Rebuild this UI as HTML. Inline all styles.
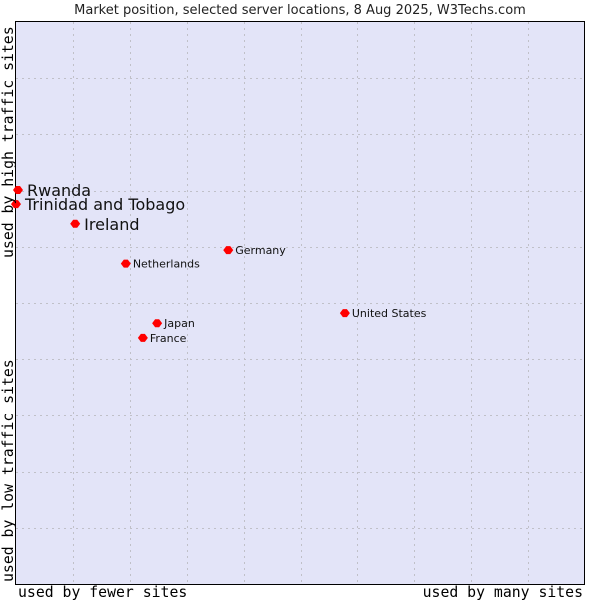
<!DOCTYPE html>
<html><head><meta charset="utf-8"><style>
body{margin:0;background:#fff;width:600px;height:600px;overflow:hidden}
svg{display:block}
</style></head><body>
<svg width="600" height="600" id="chart">
<text x="300" y="14" text-anchor="middle" font-family="DejaVu Sans, sans-serif" font-size="13" fill="#222">Market position, selected server locations, 8 Aug 2025, W3Techs.com</text>
<rect x="15.5" y="21.5" width="569" height="563" fill="#e3e4f8" stroke="#000" stroke-width="1"/>
<g id="grid"></g>
<g id="points"></g>
<text x="18" y="597" font-family="DejaVu Sans Mono, monospace" font-size="14.8" fill="#000">used by fewer sites</text>
<text x="583" y="597" text-anchor="end" font-family="DejaVu Sans Mono, monospace" font-size="14.8" fill="#000">used by many sites</text>
<text transform="translate(13,582) rotate(-90)" font-family="DejaVu Sans Mono, monospace" font-size="14.8" fill="#000">used by low traffic sites</text>
<text transform="translate(13,258) rotate(-90)" font-family="DejaVu Sans Mono, monospace" font-size="14.8" fill="#000">used by high traffic sites</text>
</svg>
<script>
const names = ["Rwanda","Trinidad and Tobago","Ireland","Netherlands","Germany","United States","Japan","France"];
const xValues = [0.35, 0, 10.4, 19.3, 37.3, 57.8, 24.8, 22.3];
const yValues = [70.1, 67.6, 64.1, 57.0, 59.4, 48.2, 46.4, 43.8];
const highlight = [true, true, true, false, false, false, false, false];

const X0=16, X1=585, Y0=584, Y1=22;
const sx = v => X0 + v/100*(X1-X0);
const sy = v => Y0 - v/100*(Y0-Y1);
const NS="http://www.w3.org/2000/svg";
const grid=document.getElementById('grid');
for(let i=1;i<10;i++){
  const gx=Math.round(sx(i*10))+0.5, gy=Math.round(sy(i*10))+0.5;
  const v=document.createElementNS(NS,'line');
  
  
  v.setAttribute('x1',gx);v.setAttribute('x2',gx);v.setAttribute('y1',Y1);v.setAttribute('y2',Y0);
  v.setAttribute('stroke','#c0c0c8');v.setAttribute('stroke-dasharray','2,4');
  grid.appendChild(v);
  const h=document.createElementNS(NS,'line');
  
  
  h.setAttribute('y1',gy);h.setAttribute('y2',gy);h.setAttribute('x1',X0);h.setAttribute('x2',X1);
  h.setAttribute('stroke','#c0c0c8');h.setAttribute('stroke-dasharray','2,4');
  grid.appendChild(h);
}
const pts=document.getElementById('points');
names.forEach((n,i)=>{
  const px=sx(xValues[i]), py=sy(yValues[i]);
  const d=document.createElementNS(NS,'path');
  
  
  d.setAttribute('d',`M${px-5},${py}L${px-2},${py-4}L${px+2},${py-4}L${px+5},${py}L${px+2},${py+4}L${px-2},${py+4}Z`);
  d.setAttribute('fill','#f00');
  pts.appendChild(d);
  const t=document.createElementNS(NS,'text');
  
  
  const big=highlight[i];
  t.setAttribute('x',px+(big?9:7));
  t.setAttribute('y',py+(big?6:4));
  t.setAttribute('font-family','DejaVu Sans, sans-serif');
  t.setAttribute('font-size',big?16:11);
  t.setAttribute('fill','#111');
  t.textContent=n;
  pts.appendChild(t);
});
</script>
</body></html>
